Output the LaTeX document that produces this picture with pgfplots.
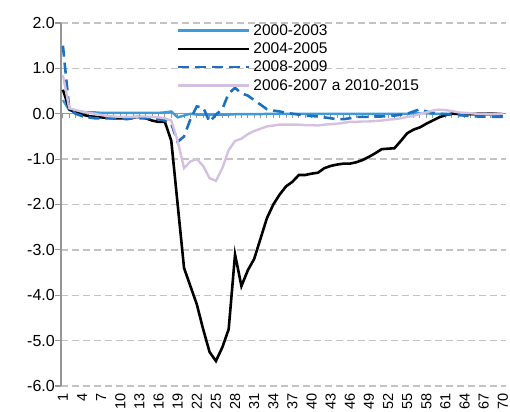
\documentclass[border=0pt]{standalone}
\usepackage{pgfplots}
\pgfplotsset{compat=1.18}
\usepackage{fontspec}
\setmainfont{Liberation Sans}
\definecolor{lblue}{RGB}{61,155,219}
\definecolor{dblue}{RGB}{28,112,192}
\definecolor{lilac}{RGB}{212,193,226}
\definecolor{gridgray}{RGB}{195,195,195}
\definecolor{axgray}{RGB}{150,150,150}
\begin{document}
\begin{tikzpicture}
\begin{axis}[name=ax,
  scale only axis, width=445pt, height=363pt,
  xmin=0.7, xmax=70.5, ymin=-6, ymax=2,
  axis lines*=left,
  x axis line style={draw=none},
  y axis line style={draw=axgray, line width=1.2pt},
  xtick={1,4,...,70},
  xticklabels={1,4,7,10,13,16,19,22,25,28,31,34,37,40,43,46,49,52,55,58,61,64,67,70},
  ytick={-6,-5,...,2},
  yticklabels={-6.0,-5.0,-4.0,-3.0,-2.0,-1.0,0.0,1.0,2.0},
  x tick style={draw=none},
  y tick style={draw=axgray, line width=1.2pt},
  tick align=outside, major tick length=6pt,
  ymajorgrids,
  grid style={draw=gridgray, line width=1.3pt, dash pattern=on 7pt off 4pt},
  xticklabel style={rotate=90, anchor=east, font=\fontsize{14.5}{16}\selectfont, inner sep=1pt},
  yticklabel style={font=\fontsize{16}{18}\selectfont, anchor=east, inner sep=1pt, xshift=1pt},
  legend style={at={(0.26,1.005)}, anchor=north west, draw=none, fill=none,
    font=\fontsize{15.5}{18}\selectfont, inner xsep=0pt, inner ysep=0pt, row sep=0pt,
    nodes={inner xsep=3pt, inner ysep=3pt}},
  legend cell align=left,
  legend image code/.code={\draw[#1] (0pt,0pt) -- (71pt,0pt);},
  clip=false,
]
\draw[axgray, line width=1.2pt] (axis cs:0.7,0) -- (axis cs:70.5,0);
\pgfplotsinvokeforeach{1,...,70}{\draw[axgray, line width=0.9pt] (axis cs:#1,0) -- ([yshift=-4pt]axis cs:#1,0);}
% 2000-2003
\addplot[lblue, line width=2.4pt] coordinates {
(1,0.3)(2,0.08)(3,0.05)(4,0.04)(5,0.03)(6,0.03)(7,0.02)(8,0.02)(9,0.02)(10,0.02)
(11,0.02)(12,0.02)(13,0.02)(14,0.02)(15,0.02)(16,0.02)(17,0.03)(18,0.05)(19,-0.08)(20,-0.04)
(21,0.0)(22,-0.02)(23,-0.02)(24,-0.02)(25,-0.02)(26,-0.02)(27,-0.02)(28,-0.01)(29,-0.01)(30,-0.01)
(31,-0.01)(32,-0.01)(33,0.0)(34,0.0)(35,0.0)(36,0.0)(37,0.0)(38,0.0)(39,0.0)(40,0.0)
(41,0.0)(42,0.0)(43,0.0)(44,0.0)(45,0.0)(46,0.0)(47,0.0)(48,0.0)(49,0.0)(50,0.0)
(51,0.0)(52,0.0)(53,0.0)(54,0.0)(55,0.0)(56,0.01)(57,0.01)(58,0.01)(59,0.0)(60,0.0)
(61,0.0)(62,0.0)(63,0.0)(64,0.0)(65,-0.01)(66,-0.01)(67,-0.01)(68,-0.02)(69,-0.02)(70,-0.02)};
\addlegendentry{2000-2003}
% 2004-2005
\addplot[black, line width=2.6pt] coordinates {
(1,0.53)(2,0.1)(3,0.03)(4,-0.02)(5,-0.05)(6,-0.07)(7,-0.08)(8,-0.09)(9,-0.1)(10,-0.1)
(11,-0.1)(12,-0.08)(13,-0.07)(14,-0.1)(15,-0.15)(16,-0.18)(17,-0.18)(18,-0.6)(19,-2.0)(20,-3.4)
(21,-3.8)(22,-4.2)(23,-4.75)(24,-5.25)(25,-5.45)(26,-5.15)(27,-4.75)(28,-3.1)(29,-3.8)(30,-3.45)
(31,-3.2)(32,-2.75)(33,-2.3)(34,-2.0)(35,-1.78)(36,-1.6)(37,-1.5)(38,-1.35)(39,-1.35)(40,-1.32)
(41,-1.3)(42,-1.2)(43,-1.15)(44,-1.12)(45,-1.1)(46,-1.1)(47,-1.07)(48,-1.02)(49,-0.95)(50,-0.87)
(51,-0.78)(52,-0.77)(53,-0.76)(54,-0.6)(55,-0.43)(56,-0.35)(57,-0.3)(58,-0.22)(59,-0.15)(60,-0.08)
(61,-0.03)(62,0.0)(63,0.0)(64,0.0)(65,-0.01)(66,0.0)(67,0.0)(68,0.0)(69,0.0)(70,-0.01)};
\addlegendentry{2004-2005}
% 2008-2009
\addplot[dblue, line width=2.6pt, dash pattern=on 11pt off 6pt] coordinates {
(1,1.5)(2,0.1)(3,0.0)(4,-0.05)(5,-0.08)(6,-0.1)(7,-0.1)(8,-0.1)(9,-0.1)(10,-0.1)
(11,-0.12)(12,-0.1)(13,-0.1)(14,-0.1)(15,-0.1)(16,-0.12)(17,-0.15)(18,-0.22)(19,-0.62)(20,-0.5)
(21,-0.12)(22,0.16)(23,0.14)(24,-0.18)(25,-0.02)(26,0.1)(27,0.45)(28,0.57)(29,0.45)(30,0.4)
(31,0.3)(32,0.2)(33,0.1)(34,0.07)(35,0.05)(36,0.02)(37,0.0)(38,-0.02)(39,-0.04)(40,-0.05)
(41,-0.06)(42,-0.08)(43,-0.1)(44,-0.12)(45,-0.12)(46,-0.1)(47,-0.07)(48,-0.07)(49,-0.07)(50,-0.06)
(51,-0.06)(52,-0.05)(53,-0.04)(54,-0.02)(55,0.0)(56,0.05)(57,0.1)(58,0.05)(59,0.02)(60,0.0)
(61,-0.01)(62,-0.02)(63,-0.03)(64,-0.04)(65,-0.05)(66,-0.06)(67,-0.06)(68,-0.07)(69,-0.07)(70,-0.07)};
\addlegendentry{2008-2009}
% 2006-2007 a 2010-2015
\addplot[lilac, line width=2.4pt] coordinates {
(1,0.85)(2,0.12)(3,0.08)(4,0.05)(5,0.02)(6,0.0)(7,-0.03)(8,-0.05)(9,-0.06)(10,-0.07)
(11,-0.07)(12,-0.07)(13,-0.06)(14,-0.06)(15,-0.07)(16,-0.08)(17,-0.1)(18,-0.15)(19,-0.6)(20,-1.2)
(21,-1.05)(22,-1.0)(23,-1.15)(24,-1.42)(25,-1.48)(26,-1.2)(27,-0.8)(28,-0.6)(29,-0.55)(30,-0.45)
(31,-0.38)(32,-0.33)(33,-0.28)(34,-0.26)(35,-0.24)(36,-0.24)(37,-0.24)(38,-0.24)(39,-0.25)(40,-0.25)
(41,-0.26)(42,-0.24)(43,-0.23)(44,-0.22)(45,-0.2)(46,-0.18)(47,-0.18)(48,-0.17)(49,-0.17)(50,-0.16)
(51,-0.15)(52,-0.13)(53,-0.12)(54,-0.1)(55,-0.07)(56,-0.05)(57,0.0)(58,0.03)(59,0.07)(60,0.09)
(61,0.08)(62,0.06)(63,0.03)(64,0.02)(65,0.01)(66,0.0)(67,0.0)(68,-0.01)(69,0.0)(70,0.0)};
\addlegendentry{2006-2007 a 2010-2015}
\end{axis}
\pgfresetboundingbox
\path ([xshift=-61pt,yshift=-26pt]ax.south west) rectangle ([xshift=4pt,yshift=23pt]ax.north east);
\end{tikzpicture}
\end{document}
